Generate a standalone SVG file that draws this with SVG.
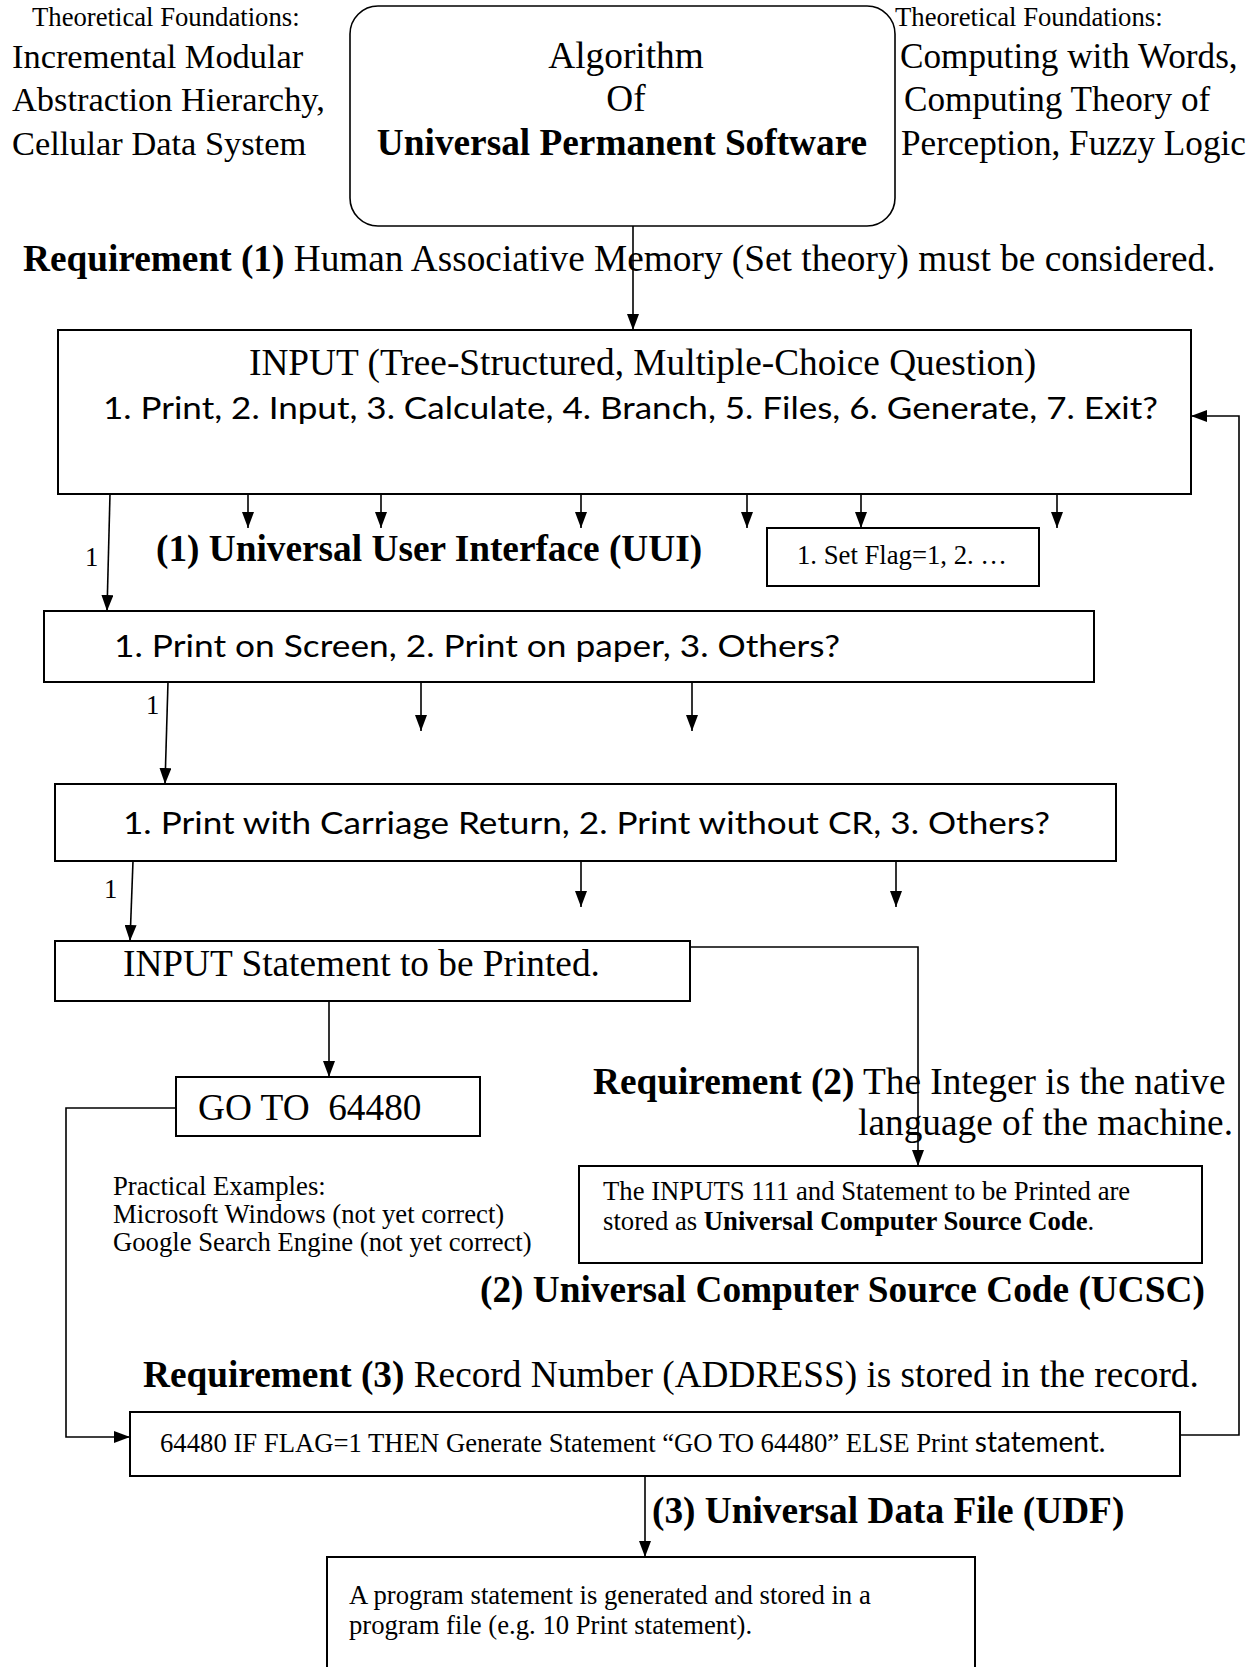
<svg xmlns="http://www.w3.org/2000/svg" width="1253" height="1667" viewBox="0 0 1253 1667">
<style>
.serif{font-family:"Liberation Serif","Times New Roman",serif;fill:#000}
.sans{font-family:Lato,"Liberation Sans",sans-serif;fill:#000}
.b{font-weight:bold}
.box{fill:#fff;stroke:#000;stroke-width:2}
.ln{fill:none;stroke:#000;stroke-width:1.6}
.f28{font-size:37.3px}
.f26{font-size:34.6px}
.f20{font-size:26.7px}
</style>
<defs>
<marker id="ah" markerWidth="16" markerHeight="12" viewBox="0 0 16 12" refX="16" refY="6" orient="auto" markerUnits="userSpaceOnUse">
<path d="M0,0 L16,6 L0,12 z" fill="#000"/>
</marker>
</defs>
<rect width="1253" height="1667" fill="#fff"/>

<g id="left-foundations">
<text class="serif f20" x="32" y="26">Theoretical Foundations:</text>
<text class="serif" style="font-size:34.4px" x="12" y="68">Incremental Modular</text>
<text class="serif" style="font-size:34.4px" x="12" y="111">Abstraction Hierarchy,</text>
<text class="serif" style="font-size:34.4px" x="12" y="155">Cellular Data System</text>
</g>

<g id="right-foundations">
<text class="serif f20" x="895" y="26">Theoretical Foundations:</text>
<text class="serif" style="font-size:35.2px" x="900" y="68">Computing with Words,</text>
<text class="serif" style="font-size:35.2px" x="904" y="111">Computing Theory of</text>
<text class="serif" style="font-size:35.2px" x="901" y="155">Perception, Fuzzy Logic</text>
</g>

<g id="algorithm">
<rect class="box" x="350" y="6" width="545" height="220" rx="28" ry="28" style="stroke-width:1.6"/>
<text class="serif f28" x="626" y="68" text-anchor="middle">Algorithm</text>
<text class="serif f28" x="626" y="111" text-anchor="middle">Of</text>
<text class="serif f28 b" x="622" y="155" text-anchor="middle">Universal Permanent Software</text>
</g>

<g id="req1">
<text class="serif f28" x="23" y="271"><tspan class="b">Requirement (1)</tspan> Human Associative Memory (Set theory) must be considered.</text>
</g>

<g id="input-menu">
<rect class="box" x="58" y="330" width="1133" height="164"/>
<text class="serif f28" x="249" y="375">INPUT (Tree-Structured, Multiple-Choice Question)</text>
<text class="sans" style="font-size:30px" x="103" y="419" textLength="1055" lengthAdjust="spacingAndGlyphs">1.  Print, 2. Input, 3. Calculate, 4. Branch, 5. Files, 6. Generate, 7. Exit?</text>
</g>

<g id="uui-label">
<text class="serif f20" x="85" y="566">1</text>
<text class="serif f28 b" x="156" y="561">(1) Universal User Interface (UUI)</text>
</g>

<g id="set-flag">
<rect class="box" x="767" y="528" width="272" height="58"/>
<text class="serif f20" x="797" y="564">1. Set Flag=1, 2. …</text>
</g>

<g id="print-menu">
<rect class="box" x="44" y="611" width="1050" height="71"/>
<text class="sans" style="font-size:30px" x="114" y="657" textLength="726" lengthAdjust="spacingAndGlyphs">1.  Print on Screen, 2. Print on paper, 3. Others?</text>
</g>

<g id="cr-menu">
<rect class="box" x="55" y="784" width="1061" height="77"/>
<text class="sans" style="font-size:30px" x="123" y="834" textLength="927" lengthAdjust="spacingAndGlyphs">1.  Print with Carriage Return, 2. Print without CR, 3.  Others?</text>
</g>

<g id="labels-1">
<text class="serif f20" x="146" y="714">1</text>
<text class="serif f20" x="104" y="898">1</text>
</g>

<g id="input-statement">
<rect class="box" x="55" y="941" width="635" height="60"/>
<text class="serif f28" x="123" y="976">INPUT Statement to be Printed.</text>
</g>

<g id="goto">
<rect class="box" x="176" y="1077" width="304" height="59"/>
<text class="serif f28" x="198" y="1120" xml:space="preserve">GO TO  64480</text>
</g>

<g id="req2">
<text class="serif f28" x="593" y="1094"><tspan class="b">Requirement (2)</tspan> The Integer is the native</text>
<text class="serif f28" x="1233" y="1135" text-anchor="end">language of the machine.</text>
</g>

<g id="practical">
<text class="serif f20" x="113" y="1195">Practical Examples:</text>
<text class="serif f20" x="113" y="1223">Microsoft Windows (not yet correct)</text>
<text class="serif f20" x="113" y="1251">Google Search Engine (not yet correct)</text>
</g>

<g id="ucsc">
<rect class="box" x="579" y="1166" width="623" height="97"/>
<text class="serif f20" x="603" y="1200">The INPUTS 111 and Statement to be Printed are</text>
<text class="serif f20" x="603" y="1230">stored as <tspan class="b">Universal Computer Source Code</tspan>.</text>
</g>

<g id="ucsc-label">
<text class="serif f28 b" x="480" y="1302">(2) Universal Computer Source Code (UCSC)</text>
</g>

<g id="req3">
<text class="serif f28" x="143" y="1387"><tspan class="b">Requirement (3)</tspan> Record Number (ADDRESS) is stored in the record.</text>
</g>

<g id="record-64480">
<rect class="box" x="130" y="1412" width="1050" height="64"/>
<text class="serif f20" x="160" y="1452">64480 IF FLAG=1 THEN Generate Statement “GO TO 64480” ELSE Print <tspan class="sans" style="font-size:28px">statement.</tspan></text>
</g>

<g id="udf-label">
<text class="serif f28 b" x="652" y="1523">(3) Universal Data File (UDF)</text>
</g>

<g id="program-file">
<rect class="box" x="327" y="1557" width="648" height="130"/>
<text class="serif f20" x="349" y="1604">A program statement is generated and stored in a</text>
<text class="serif f20" x="349" y="1634">program file (e.g. 10 Print statement).</text>
</g>

<g id="connectors">
<path class="ln" d="M633,226 L633,330" marker-end="url(#ah)"/>
<path class="ln" d="M110,494 L107,611" marker-end="url(#ah)"/>
<path class="ln" d="M248,494 L248,528" marker-end="url(#ah)"/>
<path class="ln" d="M381,494 L381,528" marker-end="url(#ah)"/>
<path class="ln" d="M581,494 L581,528" marker-end="url(#ah)"/>
<path class="ln" d="M747,494 L747,528" marker-end="url(#ah)"/>
<path class="ln" d="M861,494 L861,528" marker-end="url(#ah)"/>
<path class="ln" d="M1057,494 L1057,528" marker-end="url(#ah)"/>
<path class="ln" d="M168,682 L165,784" marker-end="url(#ah)"/>
<path class="ln" d="M421,682 L421,731" marker-end="url(#ah)"/>
<path class="ln" d="M692,682 L692,731" marker-end="url(#ah)"/>
<path class="ln" d="M133,861 L130,941" marker-end="url(#ah)"/>
<path class="ln" d="M581,861 L581,907" marker-end="url(#ah)"/>
<path class="ln" d="M896,861 L896,907" marker-end="url(#ah)"/>
<path class="ln" d="M690,947 L918,947 L918,1166" marker-end="url(#ah)"/>
<path class="ln" d="M329,1001 L329,1077" marker-end="url(#ah)"/>
<path class="ln" d="M176,1108 L66,1108 L66,1437 L130,1437" marker-end="url(#ah)"/>
<path class="ln" d="M1180,1435 L1239,1435 L1239,416 L1191,416" marker-end="url(#ah)"/>
<path class="ln" d="M645,1476 L645,1557" marker-end="url(#ah)"/>
</g>
</svg>
